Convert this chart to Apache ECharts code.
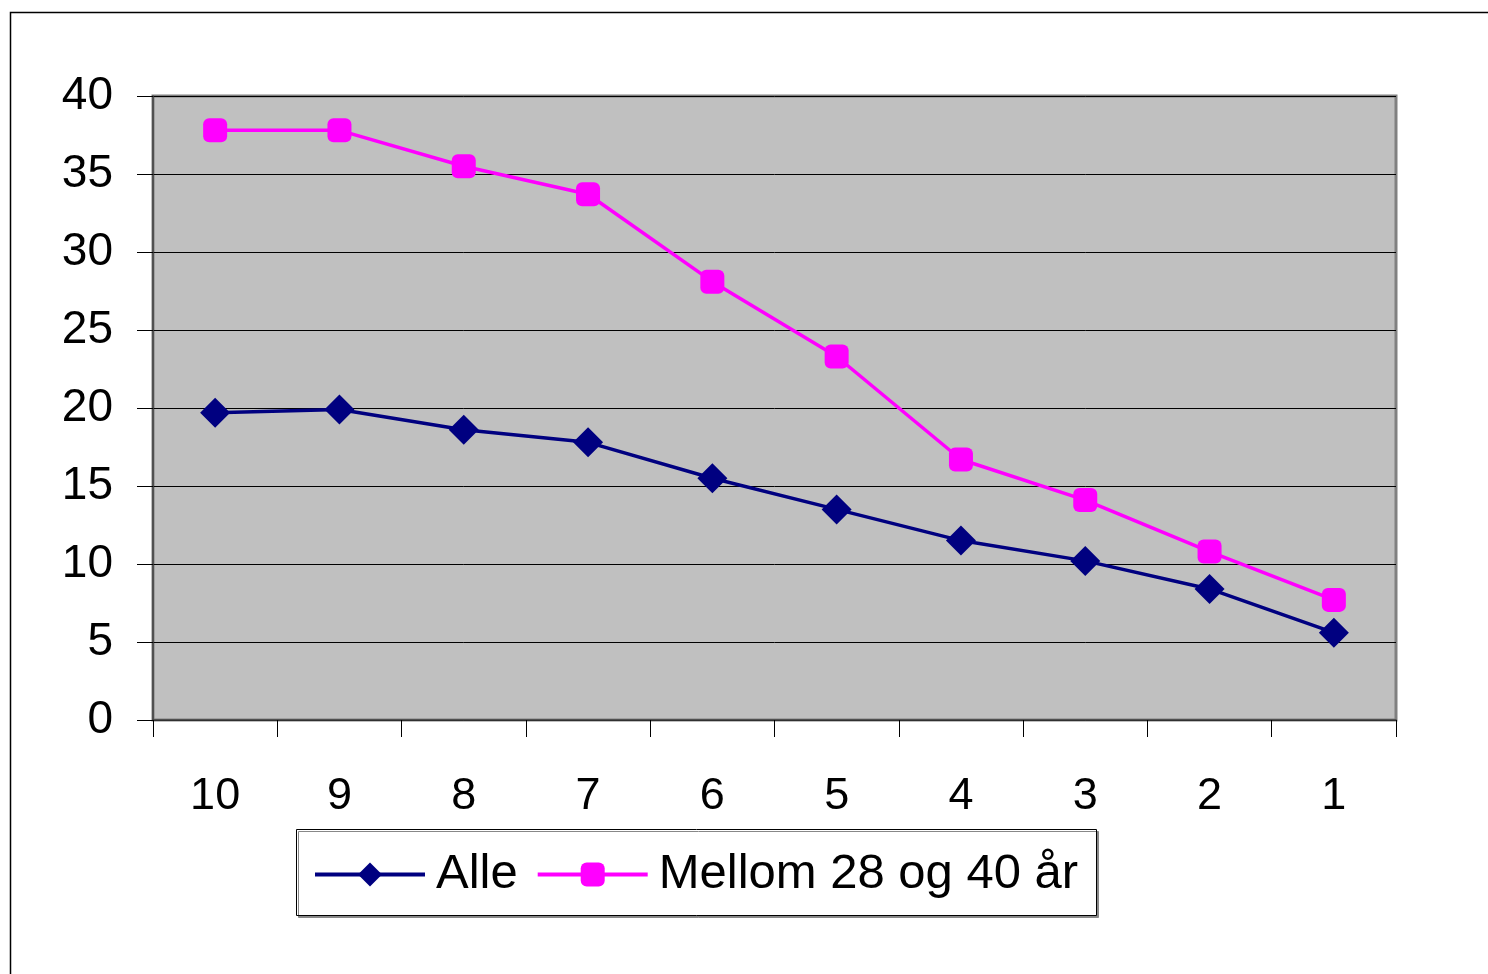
<!DOCTYPE html>
<html>
<head>
<meta charset="utf-8">
<script src="https://cdn.jsdelivr.net/npm/echarts@6/dist/echarts.min.js"></script>
<style>
html,body{margin:0;padding:0;background:#fff;}
#c{width:1488px;height:974px;}
</style>
</head>
<body>
<div id="c"></div>
<script>
var categories = ['10','9','8','7','6','5','4','3','2','1'];
var alle = [19.7, 19.9, 18.6, 17.8, 15.5, 13.5, 11.5, 10.2, 8.4, 5.6];
var mellom = [37.8, 37.8, 35.5, 33.7, 28.1, 23.3, 16.7, 14.1, 10.8, 7.7];
var seriesNames = ['Alle', 'Mellom 28 og 40 år'];

var chart = echarts.init(document.getElementById('c'));
chart.setOption({
  animation: false,
  backgroundColor: '#fff',
  graphic: [
    {type:'rect', shape:{x:10.5, y:12.5, width:1500, height:1000}, style:{fill:'none', stroke:'#000', lineWidth:1.5}, z:-10},
    {type:'rect', shape:{x:296.5, y:829.5, width:800, height:86}, style:{fill:'#fff', stroke:'#000', lineWidth:1, shadowColor:'#888', shadowOffsetX:2, shadowOffsetY:2}, z:-5}
  ],
  grid: {left:153, right:92, top:96, bottom:254, show:true, backgroundColor:'#c0c0c0', borderColor:'#808080', borderWidth:3},
  legend: {
    left: 308, top: 845, itemWidth: 110, itemHeight: 30, itemGap: 18,
    textStyle: {fontFamily:'Liberation Sans', fontSize:49, color:'#000', padding:[0,0,0,6]},
    lineStyle: {width: 4},
    data: seriesNames
  },
  xAxis: {
    type:'category', data: categories, boundaryGap:true,
    axisLine:{lineStyle:{color:'#404040', width:1.5}},
    axisTick:{show:true, length:17, inside:false, lineStyle:{color:'#000', width:1}},
    axisLabel:{fontFamily:'Liberation Sans', fontSize:45, color:'#000', margin:54}
  },
  yAxis: {
    type:'value', min:0, max:40, interval:5,
    axisLine:{show:true, lineStyle:{color:'#404040', width:1.5}},
    axisTick:{show:true, length:16, lineStyle:{color:'#000', width:1}},
    axisLabel:{fontFamily:'Liberation Sans', fontSize:46, color:'#000', margin:40},
    splitLine:{lineStyle:{color:'#000', width:1}}
  },
  series: [
    {name: seriesNames[0], type:'line', data: alle, symbol:'diamond', symbolSize:30,
     lineStyle:{color:'#000080', width:3.5}, itemStyle:{color:'#000080'}},
    {name: seriesNames[1], type:'line', data: mellom, symbol:'roundRect', symbolSize:24,
     lineStyle:{color:'#ff00ff', width:3.5}, itemStyle:{color:'#ff00ff'}}
  ]
});
</script>
</body>
</html>
